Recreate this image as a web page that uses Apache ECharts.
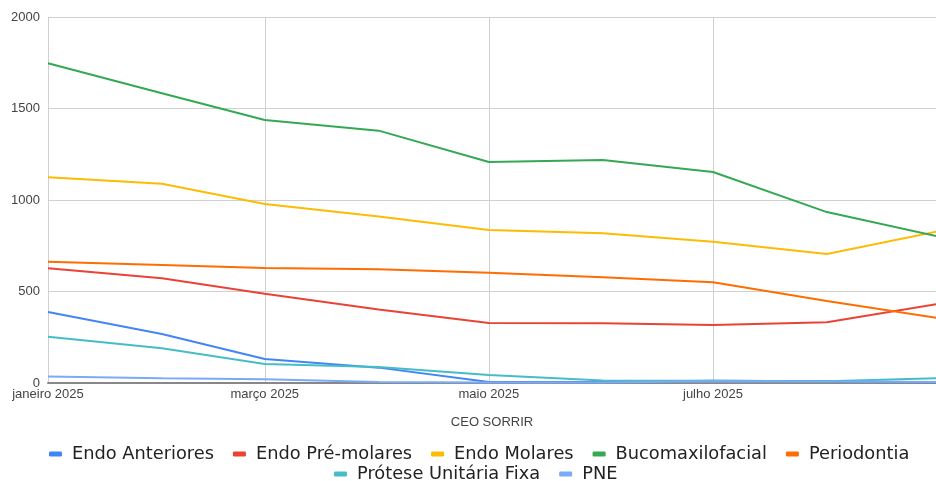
<!DOCTYPE html>
<html>
<head>
<meta charset="utf-8">
<script src="https://cdn.jsdelivr.net/npm/echarts@6/dist/echarts.min.js"></script>
<style>
html,body{margin:0;padding:0;background:#fff;}
#chart{width:936px;height:481px;}
</style>
</head>
<body>
<div id="chart"></div>
<script>
// Data (first day of each month, 2025)
const months = ['2025-01-01','2025-02-01','2025-03-01','2025-04-01','2025-05-01','2025-06-01','2025-07-01','2025-08-01','2025-09-01'];
const monthNames = ['janeiro','fevereiro','março','abril','maio','junho','julho','agosto','setembro','outubro','novembro','dezembro'];
const tickMonths = ['2025-01-01','2025-03-01','2025-05-01','2025-07-01'];
const endoAnteriores = [388, 268, 131, 84, 6, 6, 12, 10, 4];
const endoPreMolares = [627, 572, 488, 402, 328, 326, 317, 332, 434];
const endoMolares = [1124, 1089, 978, 910, 836, 818, 772, 705, 832];
const bucomaxilofacial = [1747, 1583, 1437, 1379, 1208, 1218, 1153, 934, 798];
const periodontia = [663, 645, 628, 621, 603, 578, 550, 448, 352];
const protese = [253, 190, 104, 88, 44, 13, 12, 10, 27];
const pne = [35, 26, 20, 5, 3, 3, 10, 8, 5];
const yTicks = [0, 500, 1000, 1500, 2000];
const axisTitle = 'CEO SORRIR';

function ts(s){ const p = s.split('-').map(Number); return Date.UTC(p[0], p[1]-1, p[2]); }
const xs = months.map(ts);
const DAY = 86400000;
const xMin = ts('2025-01-01');
const xMax = xMin + 241.7 * DAY; // visible window ends just before Sep 1

const seriesDefs = [
  ['Endo Anteriores', endoAnteriores, '#4285F4'],
  ['Endo Pré-molares', endoPreMolares, '#EA4335'],
  ['Endo Molares', endoMolares, '#FBBC04'],
  ['Bucomaxilofacial', bucomaxilofacial, '#34A853'],
  ['Periodontia', periodontia, '#FF6D01'],
  ['Prótese Unitária Fixa', protese, '#46BDC6'],
  ['PNE', pne, '#7BAAF7']
];

const font = '"Liberation Sans", Arial, sans-serif';
const legendCommon = {
  orient: 'horizontal',
  icon: 'roundRect',
  itemWidth: 13,
  itemHeight: 5,
  itemGap: 19,
  padding: 0,
  textStyle: { fontFamily: '"DejaVu Sans", sans-serif', fontSize: 17.8, lineHeight: 20, color: '#222', padding: [0,0,0,5] }
};

const chart = echarts.init(document.getElementById('chart'), null, { renderer: 'canvas' });
chart.setOption({
  animation: false,
  backgroundColor: '#fff',
  color: seriesDefs.map(d => d[2]),
  legend: [
    Object.assign({}, legendCommon, { left: 49, top: 444, data: seriesDefs.slice(0,5).map(d => d[0]) }),
    Object.assign({}, legendCommon, { left: 334, top: 464, data: seriesDefs.slice(5).map(d => d[0]) })
  ],
  grid: { left: 48, right: 0, top: 17, bottom: 98, containLabel: false },
  xAxis: {
    type: 'value',
    min: xMin,
    max: xMax,
    scale: true,
    name: axisTitle,
    nameLocation: 'middle',
    nameGap: 33,
    nameTextStyle: { fontFamily: font, fontSize: 13, color: '#444' },
    axisLine: { show: true, lineStyle: { color: '#888', width: 2 } },
    axisTick: { show: false, customValues: tickMonths.map(ts) },
    axisLabel: {
      customValues: tickMonths.map(ts),
      fontFamily: font, fontSize: 13, color: '#444', margin: 5,
      hideOverlap: false,
      formatter: function(v){ const d = new Date(v); return monthNames[d.getUTCMonth()] + ' ' + d.getUTCFullYear(); }
    },
    splitLine: { show: true, lineStyle: { color: '#d0d0d0', width: 1 } }
  },
  yAxis: {
    type: 'value',
    min: yTicks[0],
    max: yTicks[yTicks.length-1],
    interval: 500,
    axisLine: { show: false },
    axisTick: { show: false },
    axisLabel: { fontFamily: font, fontSize: 13, color: '#444', margin: 8, formatter: v => String(v) },
    splitLine: { show: true, lineStyle: { color: '#d0d0d0', width: 1 } }
  },
  series: seriesDefs.map(d => ({
    name: d[0],
    type: 'line',
    data: xs.map((x, i) => [x, d[1][i]]),
    showSymbol: false,
    symbol: 'none',
    clip: true,
    lineStyle: { width: 2, color: d[2] },
    itemStyle: { color: d[2] }
  }))
});
</script>
</body>
</html>
